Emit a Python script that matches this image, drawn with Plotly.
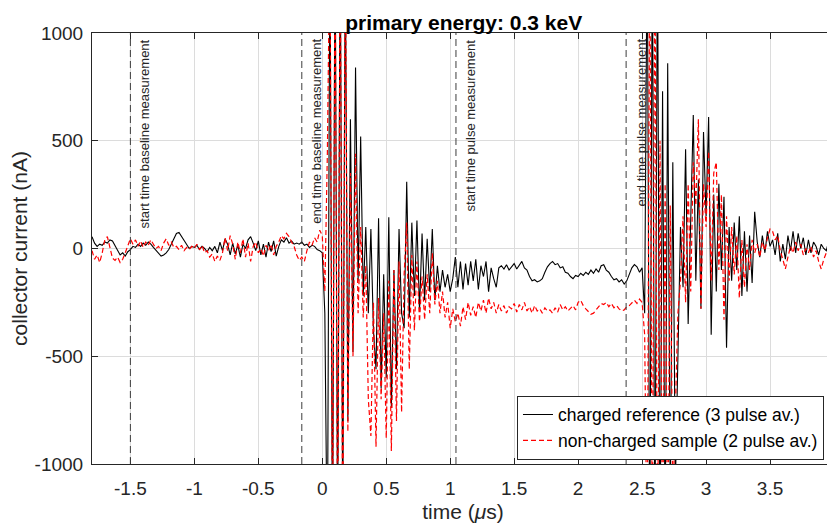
import numpy as np
import plotly.graph_objects as go

# time grid (µs): -1.80 ... 4.00, step 0.02 (291 samples)
t_start = -1.8
t_step = 0.02

charged_reference = [
    55, 25, 10, 20, 15, 30, 25, 40, 35, 15,
    -10, -30, -20, -35, -15, -5, 10, 5, 20, 10,
    25, 15, 30, 20, 5, -10, -25, -35, -30, -20,
    -5, 20, 45, 70, 75, 55, 40, 15, 0, 10,
    5, 15, -5, 10, 0, -15, 5, -10, 10, -20,
    30, -10, 45, 20, -30, 25, -25, 15, -40, 20,
    0, 40, 55, 25, -10, 35, -30, 20, -40, 30,
    -15, 35, -35, 10, 40, 30, 50, 25, 35, 20,
    25, 20, 30, 15, 20, 5, 15, 10, -5, -10,
    -20, -300, -1500, 1500, -1500, 1500, -1400, 1500, -1300, 1400,
    -800, 600, -480, 840, -150, 520, -220, 100, -300, 90,
    -380, -560, 140, -650, -120, -600, 145, -740, -100, -560,
    90, -300, -370, 310, -320, 120, -220, 130, -290, 70,
    -240, 45, -200, 90, -240, -80, -200, -100, -180, -120,
    -200, -140, -40, -180, -60, -190, -70, -170, -60, -150,
    -50, -190, -80, -130, -60, -200, -90, -140, -180, -90,
    -80, -95, -75, -100, -85, -70, -95, -80, -60, -90,
    -100, -130, -150, -145, -155, -150, -140, -110, -85, -70,
    -60, -75, -70, -90, -85, -110, -115, -130, -140, -125,
    -130, -115, -125, -110, -120, -100, -115, -95, -110, -80,
    -75, -100, -110, -130, -145, -140, -155, -145, -165, -150,
    -120, -90, -75, -85, -110, -90, -300, 1500, -1500, 1500,
    -1500, 1500, -1500, 730, -1400, 860, -1200, 400, -1100, -550,
    100, -180, 460, -350, 210, 620, -150, 320, -280, 540,
    150, 610, -400, 250, -200, 300, -100, 240, -460, 100,
    -150, 120, -100, 150, -220, 80, -200, 60, -160, 170,
    30, -40, 60, -20, 80, 10, 40, -30, 70, -60,
    20, -50, 60, -10, 80, -20, 70, 0, 50, -30,
    40, -20, 30, 10, -30, 20, 0, -10, 40, 20,
    50,
]

non_charged_sample = [
    -10, -50, -30, -65, -20, 40, 55, 10, -45, -55,
    -40, -65, -50, -20, 10, 45, 20, 40, 10, 35,
    5, 30, 15, 40, 20, 0, 10, -10, 25, 45,
    15, 30, 5, 10, -5, 15, -10, 5, -5, 10,
    0, 20, -5, 15, -20, -10, -40, -25, -60, -35,
    -55, -20, 50, -10, 60, 20, -50, 30, -20, 45,
    -40, 25, -60, 10, 30, -20, 0, -35, 15, -10,
    20, -30, 10, 30, 60, 45, 70, 55, 30, 10,
    -30, -55, -40, -60, -10, 30, 15, 50, 30, 85,
    60, -200, 450, 1500, -1500, 1500, -1500, 1500, -1500, 1500,
    -850, 350, -500, 440, -300, 100, -320, -80, -700, -870,
    -250, -920, -230, -700, -300, -880, -150, -940, -100, -800,
    -60, -760, -120, 120, -560, -30, -380, -60, -340, -130,
    -330, -120, -300, -20, -260, -150, -300, -200, -320, -250,
    -370, -280, -340, -300, -360, -270, -330, -250, -310, -270,
    -320, -250, -290, -240, -300, -230, -280, -250, -300, -260,
    -290, -265, -300, -270, -280, -255, -295, -260, -285, -250,
    -290, -270, -300, -265, -290, -280, -300, -275, -290, -285,
    -300, -275, -295, -260, -285, -270, -290, -275, -265, -285,
    -250, -240, -265, -280, -295, -305, -300, -285, -270, -255,
    -260, -250, -270, -255, -275, -265, -280, -290, -285, -270,
    -265, -250, -240, -255, -235, -250, -400, -1500, 1500, -1500,
    1500, -1500, 500, -1500, 300, -1500, 200, -1200, -700, -300,
    -150, 150, -250, 300, -200, 400, 200, 600, -280, 300,
    100, 450, -150, 350, 400, -100, 250, -330, 150, -150,
    100, -120, 60, -230, 40, -180, 20, -100, 40, -20,
    20, -40, 30, -10, 50, 90, 80, 40, 60, -10,
    -50, -95, -40, 10, -20, 30, -10, 20, -30, 0,
    -20, 10, -40, -10, -60, -95, -50, -20, -40, -10,
    -15,
]

x_ticks = [-1.5, -1, -0.5, 0, 0.5, 1, 1.5, 2, 2.5, 3, 3.5, 4]
x_tick_labels = ["-1.5", "-1", "-0.5", "0", "0.5", "1", "1.5", "2", "2.5", "3", "3.5", "4"]
y_ticks = [-1000, -500, 0, 500, 1000]
y_tick_labels = ["-1000", "-500", "0", "500", "1000"]

marker_times = [-1.5, -0.16, 1.045, 2.375]
marker_labels = [
    "start time baseline measurement",
    "end time baseline measurement",
    "start time pulse measurement",
    "end time pulse measurement",
]

t_black = np.round(t_start + t_step * np.arange(len(charged_reference)), 4)
t_red = np.round(t_start + t_step * np.arange(len(non_charged_sample)), 4)

FONT = "Liberation Sans, Arial, sans-serif"
AX = "#262626"

fig = go.Figure()
fig.add_trace(go.Scatter(
    x=t_black, y=charged_reference, mode="lines",
    name="charged reference (3 pulse av.)",
    line=dict(color="#000000", width=1.1),
))
fig.add_trace(go.Scatter(
    x=t_red, y=non_charged_sample, mode="lines",
    name="non-charged sample (2 pulse av.)",
    line=dict(color="#ff0000", width=1.2, dash="5px,3px"),
))

for tm, lab in zip(marker_times, marker_labels):
    fig.add_shape(type="line", xref="x", yref="paper", x0=tm, x1=tm, y0=0, y1=1,
                  line=dict(color="#3c3c3c", width=1, dash="7px,4px"), layer="above")
    fig.add_annotation(x=tm, xref="x", y=1, yref="paper", text=lab, textangle=-90,
                       showarrow=False, xanchor="left", yanchor="top", xshift=5, yshift=-4,
                       font=dict(family=FONT, size=13, color=AX))

axis_common = dict(
    showline=True, linecolor=AX, linewidth=1, mirror="ticks",
    ticks="inside", ticklen=6, tickcolor=AX, tickwidth=1,
    showgrid=True, gridcolor="#dcdcdc", gridwidth=1, zeroline=False,
    tickfont=dict(family=FONT, size=19, color=AX), automargin=False,
    ticklabeloverflow="allow",
)

fig.update_xaxes(range=[-1.8, 4], tickvals=x_ticks, ticktext=x_tick_labels,
                 title=dict(text="time (<i>μ</i>s)", font=dict(family=FONT, size=21, color=AX), standoff=6),
                 ticklabelstandoff=7, **axis_common)
fig.update_yaxes(range=[-1000, 1000], tickvals=y_ticks, ticktext=y_tick_labels,
                 title=dict(text="collector current (nA)", font=dict(family=FONT, size=21, color=AX), standoff=3),
                 ticklabelstandoff=4, **axis_common)

# the page body has an 8px margin, so the figure is sized to fill the rest of the window
fig.update_layout(
    width=827, height=520,
    margin=dict(l=84, r=1, t=25, b=64, autoexpand=False),
    paper_bgcolor="white", plot_bgcolor="white",
    title=dict(text="<b>primary energy: 0.3 keV</b>", x=0.551, xanchor="center",
               y=0.986, yanchor="top", font=dict(family=FONT, size=21, color="#000000")),
    showlegend=True,
    legend=dict(x=0.9865, y=0.01, xanchor="right", yanchor="bottom",
                bgcolor="white", bordercolor=AX, borderwidth=1,
                font=dict(family=FONT, size=17.5, color="#000000"),
                tracegroupgap=0, itemwidth=30),
)

fig.write_html("out.html")
